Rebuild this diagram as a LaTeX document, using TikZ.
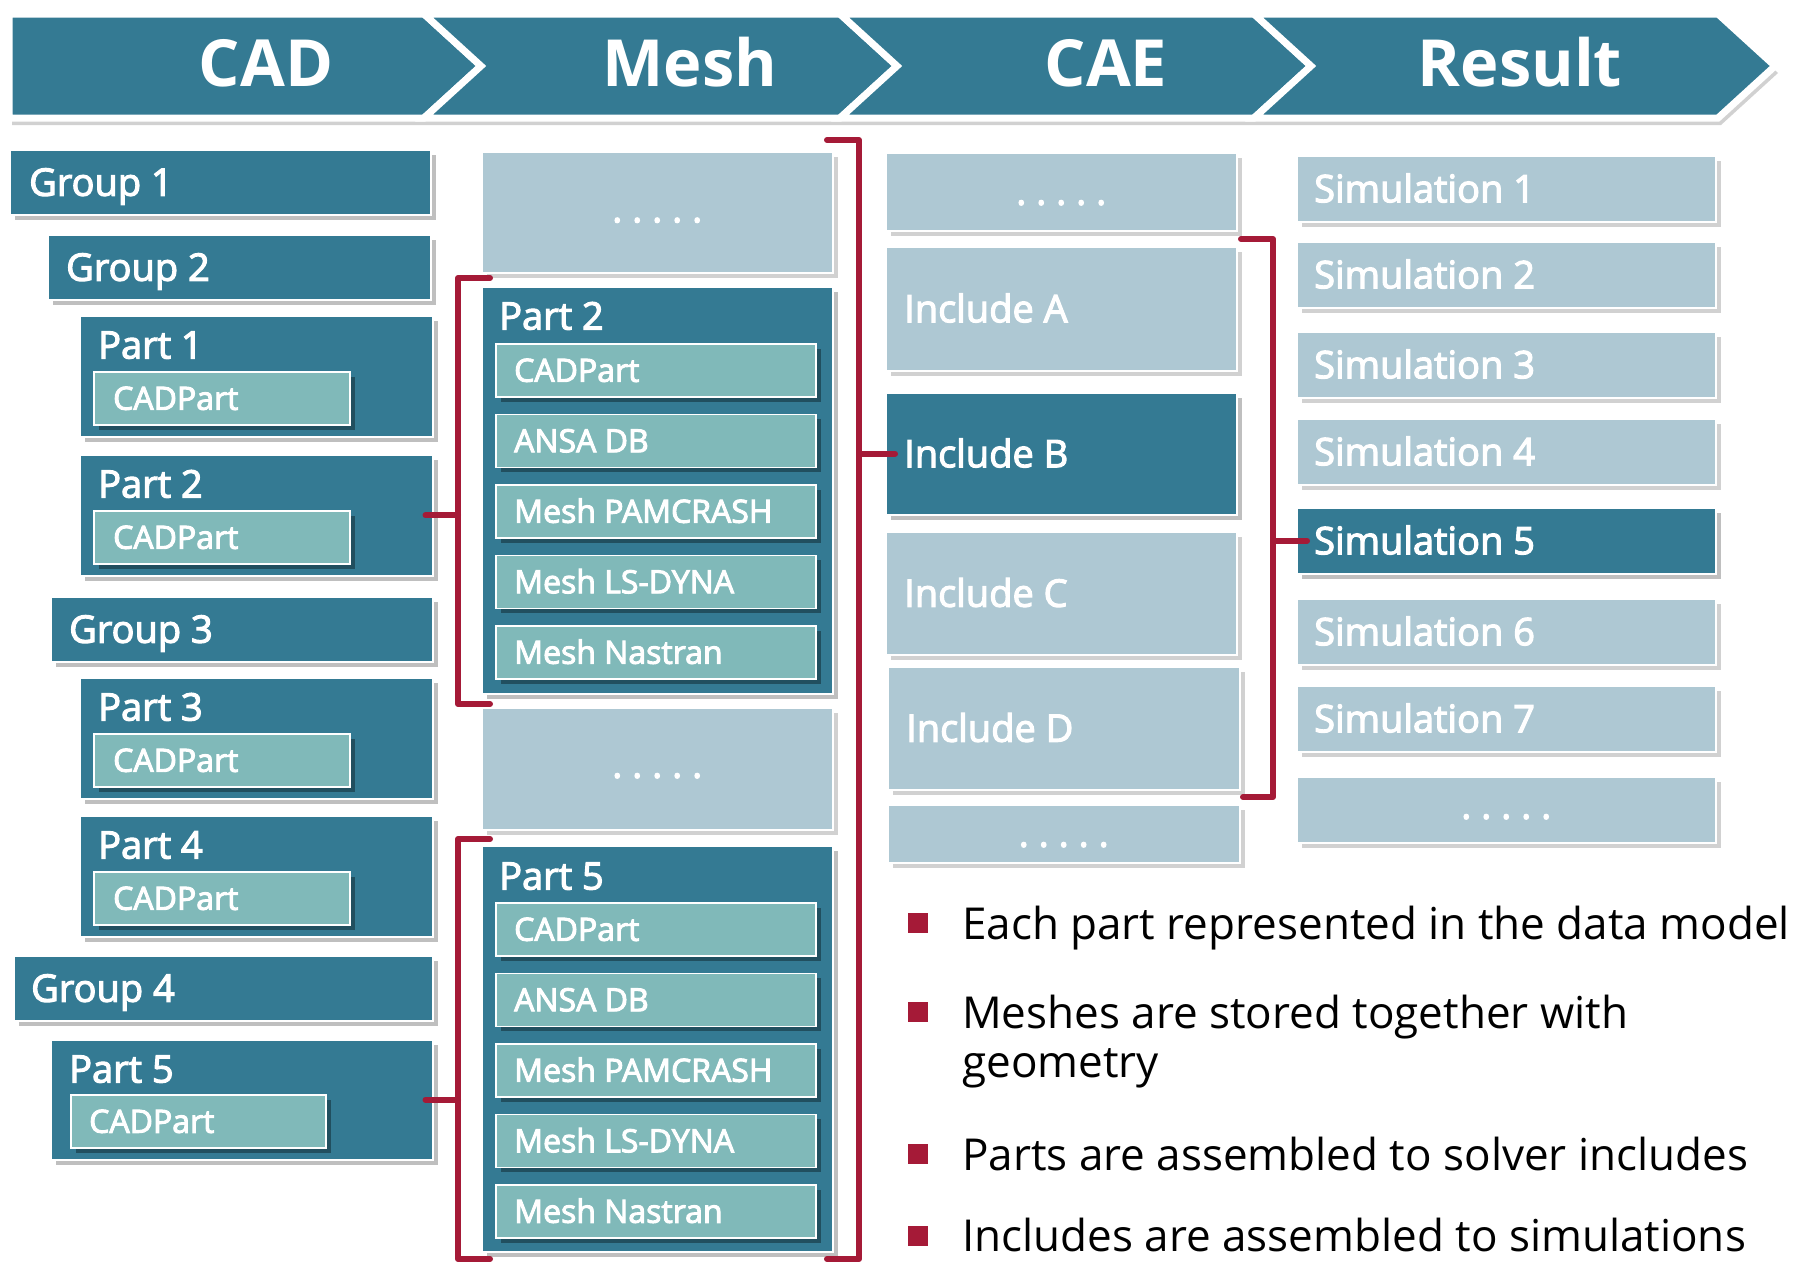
\documentclass[tikz,border=0pt]{standalone}
\usepackage{fontspec}
\setmainfont{Open Sans}
\newfontface\boxface{Open Sans}[FakeBold=3]
\usetikzlibrary{shadows}
\definecolor{dkteal}{RGB}{52,122,147}
\definecolor{ltblue}{RGB}{174,200,211}
\definecolor{cadgreen}{RGB}{128,185,185}
\definecolor{brkred}{RGB}{165,26,55}
\tikzset{
  box/.style={rectangle, draw=white, line width=1.5pt, inner sep=0pt, anchor=north west},
  dk/.style={box, fill=dkteal, drop shadow={shadow xshift=5pt, shadow yshift=-5pt, opacity=.25, fill=black}},
  lt/.style={box, fill=ltblue, drop shadow={shadow xshift=5pt, shadow yshift=-5pt, opacity=.18, fill=black}},
  gr/.style={box, fill=cadgreen, drop shadow={shadow xshift=5pt, shadow yshift=-5pt, opacity=.35, fill=black}},
  lbl/.style={inner sep=0pt, anchor=west, text=white, font=\boxface\fontsize{38}{40}\selectfont, text height=27pt, text depth=0pt},
  sub/.style={lbl, font=\boxface\fontsize{32}{34}\selectfont, text height=23pt},
  dotrow/.style={inner sep=0pt, anchor=base, text=white, font=\boxface\fontsize{38}{40}\selectfont},
  hdr/.style={inner sep=0pt, text=white, font=\fontsize{65}{65}\selectfont\bfseries, text height=47pt, text depth=0pt},
  bul/.style={inner sep=0pt, anchor=base west, text=black, font=\fontsize{44}{50}\selectfont},
  sq/.style={rectangle, fill=brkred, minimum size=20pt, inner sep=0pt},
  brk/.style={draw=brkred, line width=6pt, line cap=round, line join=round},
  seg/.style={fill=dkteal, draw=white, line width=7pt, line join=miter},
}
\begin{document}
\begin{tikzpicture}[x=1pt, y=-1pt]
\useasboundingbox (0,0) rectangle (1795,1261);

% process band
\fill[black, opacity=.18] (12,21) -- (1721,21) -- (1778,73) -- (1721,125) -- (12,125) -- cycle;
\path[seg] (9,14) -- (424,14) -- (481,66) -- (424,118) -- (9,118) -- cycle;
\path[seg] (424,14) -- (840,14) -- (897,66) -- (840,118) -- (424,118) -- (481,66) -- cycle;
\path[seg] (840,14) -- (1254,14) -- (1311,66) -- (1254,118) -- (840,118) -- (897,66) -- cycle;
\path[seg] (1254,14) -- (1718,14) -- (1775,66) -- (1718,118) -- (1254,118) -- (1311,66) -- cycle;
\node[hdr] (hCAD) at (266,63) {CAD};
\node[hdr] (hMesh) at (690,63) {Mesh};
\node[hdr] (hCAE) at (1106,63) {CAE};
\node[hdr] (hRes) at (1520,63) {Result};

% CAD column
\node[dk, minimum width=421pt, minimum height=65pt] (g1) at (9,149) {};
\node[lbl] (g1t) at ([xshift=20pt]g1.west) {Group 1};
\node[dk, minimum width=383pt, minimum height=65pt] (g2) at (47,234) {};
\node[lbl] (g2t) at ([xshift=19pt]g2.west) {Group 2};
\node[dk, minimum width=353pt, minimum height=121pt] (p1) at (79,315) {};
\node[lbl] (p1t) at ([xshift=19pt,yshift=-30pt]p1.north west) {Part 1};
\node[gr, minimum width=256pt, minimum height=53pt] (c1) at ([xshift=14pt,yshift=-56pt]p1.north west) {};
\node[sub] (c1t) at ([xshift=20pt]c1.west) {CADPart};
\node[dk, minimum width=353pt, minimum height=121pt] (p2) at (79,454) {};
\node[lbl] (p2t) at ([xshift=19pt,yshift=-30pt]p2.north west) {Part 2};
\node[gr, minimum width=256pt, minimum height=53pt] (c2) at ([xshift=14pt,yshift=-56pt]p2.north west) {};
\node[sub] (c2t) at ([xshift=20pt]c2.west) {CADPart};
\node[dk, minimum width=382pt, minimum height=65pt] (g3) at (50,596) {};
\node[lbl] (g3t) at ([xshift=19pt]g3.west) {Group 3};
\node[dk, minimum width=353pt, minimum height=121pt] (p3) at (79,677) {};
\node[lbl] (p3t) at ([xshift=19pt,yshift=-30pt]p3.north west) {Part 3};
\node[gr, minimum width=256pt, minimum height=53pt] (c3) at ([xshift=14pt,yshift=-56pt]p3.north west) {};
\node[sub] (c3t) at ([xshift=20pt]c3.west) {CADPart};
\node[dk, minimum width=353pt, minimum height=121pt] (p4) at (79,815) {};
\node[lbl] (p4t) at ([xshift=19pt,yshift=-30pt]p4.north west) {Part 4};
\node[gr, minimum width=256pt, minimum height=53pt] (c4) at ([xshift=14pt,yshift=-56pt]p4.north west) {};
\node[sub] (c4t) at ([xshift=20pt]c4.west) {CADPart};
\node[dk, minimum width=419pt, minimum height=65pt] (g4) at (13,955) {};
\node[lbl] (g4t) at ([xshift=18pt]g4.west) {Group 4};
\node[dk, minimum width=382pt, minimum height=120pt] (p5) at (50,1039) {};
\node[lbl] (p5t) at ([xshift=19pt,yshift=-30pt]p5.north west) {Part 5};
\node[gr, minimum width=255pt, minimum height=53pt] (c5) at ([xshift=20pt,yshift=-55pt]p5.north west) {};
\node[sub] (c5t) at ([xshift=19pt]c5.west) {CADPart};

% Mesh column
\node[lt, minimum width=351pt, minimum height=121pt] (md1) at (481,151) {};
\node[dotrow] (md1t) at ([yshift=-10pt]md1.center) {.\ .\ .\ .\ .};
\node[dk, minimum width=351pt, minimum height=407pt] (mp2) at (481,286) {};
\node[lbl] (mp2t) at ([xshift=18pt,yshift=-30pt]mp2.north west) {Part 2};
\foreach \t [count=\i] in {CADPart, ANSA DB, Mesh PAMCRASH, Mesh LS-DYNA, Mesh Nastran} {
  \node[gr, minimum width=320pt, minimum height=53pt] (ma\i) at (495,{343+70.5*(\i-1)}) {};
  \node[sub] (mat\i) at ([xshift=19pt]ma\i.west) {\t};
}
\node[lt, minimum width=351pt, minimum height=122pt] (md2) at (481,707) {};
\node[dotrow] (md2t) at ([yshift=-9pt]md2.center) {.\ .\ .\ .\ .};
\node[dk, minimum width=351pt, minimum height=406pt] (mp5) at (481,845) {};
\node[lbl] (mp5t) at ([xshift=18pt,yshift=-31pt]mp5.north west) {Part 5};
\foreach \t [count=\i] in {CADPart, ANSA DB, Mesh PAMCRASH, Mesh LS-DYNA, Mesh Nastran} {
  \node[gr, minimum width=320pt, minimum height=53pt] (mb\i) at (495,{902+70.5*(\i-1)}) {};
  \node[sub] (mbt\i) at ([xshift=19pt]mb\i.west) {\t};
}

% CAE column
\node[lt, minimum width=351pt, minimum height=78pt] (cd1) at (885,152) {};
\node[dotrow] (cd1t) at ([yshift=-13pt]cd1.center) {.\ .\ .\ .\ .};
\node[lt, minimum width=351pt, minimum height=124pt] (iA) at (885,246) {};
\node[lbl] (iAt) at ([xshift=19pt]iA.west) {Include A};
\node[dk, minimum width=351pt, minimum height=122pt] (iB) at (885,392) {};
\node[lbl] (iBt) at ([xshift=19pt]iB.west) {Include B};
\node[lt, minimum width=351pt, minimum height=123pt] (iC) at (885,531) {};
\node[lbl] (iCt) at ([xshift=19pt]iC.west) {Include C};
\node[lt, minimum width=352pt, minimum height=123pt] (iD) at (887,666) {};
\node[lbl] (iDt) at ([xshift=19pt]iD.west) {Include D};
\node[lt, minimum width=352pt, minimum height=58pt] (cd2) at (887,804) {};
\node[dotrow] (cd2t) at ([yshift=-13pt]cd2.center) {.\ .\ .\ .\ .};

% Result column
\foreach \y/\s [count=\i] in {155/lt, 241/lt, 331/lt, 418/lt, 507/dk, 598/lt, 685/lt} {
  \node[\s, minimum width=419pt, minimum height=66pt] (s\i) at (1296,\y) {};
  \node[lbl] (st\i) at ([xshift=18pt]s\i.west) {Simulation \i};
}
\node[lt, minimum width=419pt, minimum height=66pt] (sd) at (1296,776) {};
\node[dotrow] (sdt) at ([yshift=-9pt]sd.center) {.\ .\ .\ .\ .};

% brackets: CAD parts to mesh parts
\coordinate (b1a) at (490,278); \coordinate (b1t) at (458,278);
\coordinate (b1b) at (458,704); \coordinate (b1d) at (490,704);
\draw[brk] (b1a) -- (b1t) -- (b1b) -- (b1d);
\draw[brk] ([xshift=-8pt]p2.east) -- (p2.east -| b1t);
\coordinate (b2a) at (490,839); \coordinate (b2t) at (458,839);
\coordinate (b2b) at (458,1259); \coordinate (b2d) at (490,1259);
\draw[brk] (b2a) -- (b2t) -- (b2b) -- (b2d);
\draw[brk] ([xshift=-8pt]p5.east) -- (p5.east -| b2t);

% bracket: meshes to include B
\coordinate (b3a) at (827,140); \coordinate (b3t) at (859,140);
\coordinate (b3b) at (859,1259); \coordinate (b3d) at (827,1259);
\draw[brk] (b3a) -- (b3t) -- (b3b) -- (b3d);
\draw[brk] (iB.west -| b3t) -- ([xshift=10pt]iB.west);

% bracket: includes to simulation 5
\coordinate (b4a) at (1241,239); \coordinate (b4t) at (1273,239);
\coordinate (b4b) at (1273,797); \coordinate (b4d) at (1243,797);
\draw[brk] (b4a) -- (b4t) -- (b4b) -- (b4d);
\draw[brk] (s5.west -| b4t) -- ([xshift=11pt]s5.west);

% notes
\node[sq] (q1) at (918,923) {};
\node[bul] (n1) at (962,939) {Each part represented in the data model};
\node[sq] (q2) at (918,1012) {};
\node[bul] (n2) at (962,1028) {Meshes are stored together with};
\node[bul] (n2b) at (962,1077) {geometry};
\node[sq] (q3) at (918,1154) {};
\node[bul] (n3) at (962,1170) {Parts are assembled to solver includes};
\node[sq] (q4) at (918,1236) {};
\node[bul] (n4) at (962,1251) {Includes are assembled to simulations};
\end{tikzpicture}
\end{document}
